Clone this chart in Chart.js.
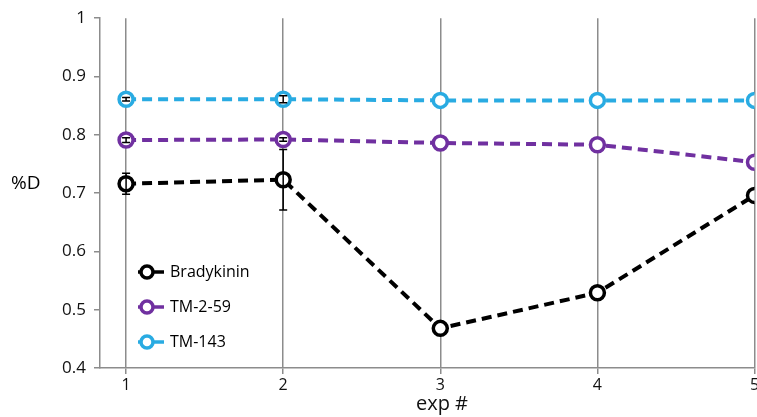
<!DOCTYPE html>
<html>
<head>
<meta charset="utf-8">
<script src="https://cdn.jsdelivr.net/npm/chart.js@4"></script>
<style>
  html, body { margin: 0; padding: 0; background: #fff; overflow: hidden; }
</style>
</head>
<body>
<!-- a bit wider than the window so the "5" label gets clipped at the edge like the original -->
<canvas id="expChart" width="765" height="417"></canvas>
<script>
const expNums = [1, 2, 3, 4, 5]
const seriesNames = ["Bradykinin", "TM-2-59", "TM-143"]
const bradykinin = [0.716, 0.723, 0.468, 0.529, 0.696]
const tm259 = [0.791, 0.792, 0.786, 0.783, 0.753]
const tm143 = [0.861, 0.861, 0.859, 0.859, 0.859]
const bradykininErr = [0.018, 0.052, 0, 0, 0]
const tm259Err = [0.004, 0.003, 0, 0, 0]
const tm143Err = [0.003, 0.006, 0, 0, 0]
const colors = ["#000000", "#7030A0", "#29ABE2"]

const font = "'Open Sans', sans-serif"

const series = [bradykinin, tm259, tm143]
const errs = [bradykininErr, tm259Err, tm143Err]

// error bars, drawn over the markers like excel does
const errorBars = {
    id: 'errorBars',
    afterDatasetsDraw(chart) {
        const { ctx, scales: { x, y } } = chart
        ctx.save()
        ctx.strokeStyle = '#000'
        ctx.lineWidth = 1.5
        errs.forEach((e, i) => {
            e.forEach((v, j) => {
                if (!v) return
                const px = x.getPixelForValue(expNums[j])
                const top = y.getPixelForValue(series[i][j] + v)
                const bot = y.getPixelForValue(series[i][j] - v)
                ctx.beginPath()
                ctx.moveTo(px, top); ctx.lineTo(px, bot)
                ctx.moveTo(px - 4, top); ctx.lineTo(px + 4, top)
                ctx.moveTo(px - 4, bot); ctx.lineTo(px + 4, bot)
                ctx.stroke()
            })
        })
        ctx.restore()
    }
}

// legend sits inside the plot, bottom left; axis titles drawn by hand too
const insideLegend = {
    id: 'insideLegend',
    afterDraw(chart) {
        const { ctx } = chart
        ctx.save()
        seriesNames.forEach((name, i) => {
            const yy = 272 + i * 35
            ctx.strokeStyle = colors[i]
            ctx.lineWidth = 3.5
            ctx.beginPath()
            ctx.moveTo(138, yy); ctx.lineTo(164, yy)
            ctx.stroke()
            ctx.beginPath()
            ctx.arc(147, yy, 6, 0, Math.PI * 2)
            ctx.fillStyle = '#fff'
            ctx.fill()
            ctx.stroke()
            ctx.fillStyle = '#000'
            ctx.font = "16px " + font
            ctx.textBaseline = 'middle'
            ctx.fillText(name, 170, yy)
        })
        ctx.font = "19px " + font
        ctx.textBaseline = 'middle'
        ctx.fillText('%D', 11, 184)
        ctx.fillStyle = '#111'
        ctx.font = "20px " + font
        ctx.textAlign = 'center'
        ctx.fillText('exp #', 442, 404)
        ctx.restore()
    }
}

new Chart(document.getElementById('expChart'), {
    type: 'line',
    data: {
        datasets: seriesNames.map((name, i) => ({
            label: name,
            data: expNums.map((n, j) => ({ x: n, y: series[i][j] })),
            borderColor: colors[i],
            backgroundColor: '#fff',
            borderWidth: 4,
            borderDash: [10, 6],
            pointRadius: 7,
            pointBorderWidth: 3.5,
            pointBackgroundColor: '#fff',
            pointBorderColor: colors[i],
            tension: 0
        }))
    },
    options: {
        responsive: false,
        animation: false,
        layout: { padding: { top: 17, right: 3, left: 0, bottom: 0 } },
        plugins: { legend: { display: false }, tooltip: { enabled: false } },
        scales: {
            x: {
                type: 'linear',
                min: 0.834,
                max: 5,
                afterBuildTicks: s => { s.ticks = expNums.map(v => ({ value: v })) },
                afterFit: s => { s.height = 49 },
                grid: { color: '#8c8c8c', lineWidth: 1.5, tickLength: 6 },
                border: { color: '#8c8c8c', width: 1.5 },
                ticks: { color: '#111', font: { family: font, size: 16 }, padding: 2, maxRotation: 0 }
            },
            y: {
                min: 0.4,
                max: 1,
                afterFit: s => { s.width = 100 },
                grid: { drawOnChartArea: false, color: '#8c8c8c', lineWidth: 1.5, tickLength: 6 },
                border: { color: '#8c8c8c', width: 1.5 },
                ticks: {
                    stepSize: 0.1,
                    autoSkip: false,
                    color: '#111',
                    padding: 8,
                    font: { family: font, size: 17 },
                    callback: v => String(+v.toFixed(1))
                }
            }
        }
    },
    plugins: [errorBars, insideLegend]
})
</script>
</body>
</html>
